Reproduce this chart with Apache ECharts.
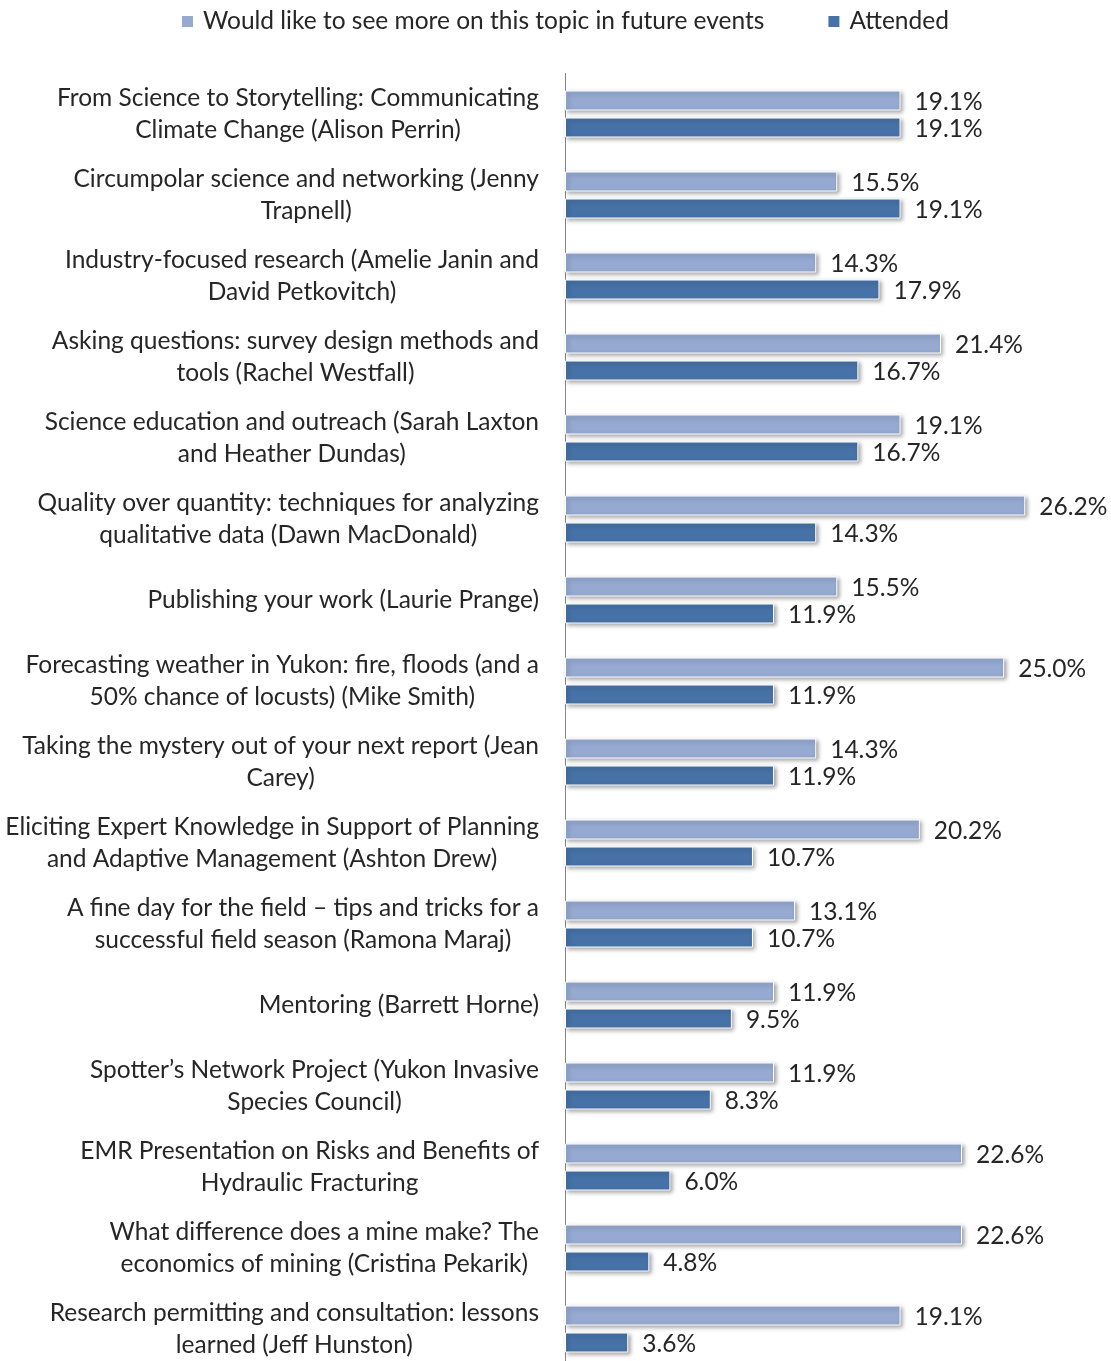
<!DOCTYPE html>
<html>
<head>
<meta charset="utf-8">
<script src="https://cdn.jsdelivr.net/npm/echarts@6/dist/echarts.min.js"></script>
<style>
  html, body { margin: 0; padding: 0; background: #fff; }
  #chart { width: 1111px; height: 1361px; }
</style>
</head>
<body>
<div id="chart"></div>
<script>
// Session titles (line breaks as they wrap on the axis)
const categories = [
  'From Science to Storytelling: Communicating\nClimate Change (Alison Perrin)',
  'Circumpolar science and networking (Jenny\nTrapnell)',
  'Industry-focused research (Amelie Janin and\nDavid Petkovitch)',
  'Asking questions: survey design methods and\ntools (Rachel Westfall)',
  'Science education and outreach (Sarah Laxton\nand Heather Dundas)',
  'Quality over quantity: techniques for analyzing\nqualitative data (Dawn MacDonald)',
  'Publishing your work (Laurie Prange)',
  'Forecasting weather in Yukon: fire, floods (and a\n50% chance of locusts) (Mike Smith)',
  'Taking the mystery out of your next report (Jean\nCarey)',
  'Eliciting Expert Knowledge in Support of Planning\nand Adaptive Management (Ashton Drew)',
  'A fine day for the field \u2013 tips and tricks for a\nsuccessful field season (Ramona Maraj)',
  'Mentoring (Barrett Horne)',
  'Spotter\u2019s Network Project (Yukon Invasive\nSpecies Council)',
  'EMR Presentation on Risks and Benefits of\nHydraulic Fracturing',
  'What difference does a mine make? The\neconomics of mining (Cristina Pekarik)',
  'Research permitting and consultation: lessons\nlearned (Jeff Hunston)'
];

// Percent of respondents
const wouldLikeMore = [19.1, 15.5, 14.3, 21.4, 19.1, 26.2, 15.5, 25.0, 14.3, 20.2, 13.1, 11.9, 11.9, 22.6, 22.6, 19.1];
const attended      = [19.1, 19.1, 17.9, 16.7, 16.7, 14.3, 11.9, 11.9, 11.9, 10.7, 10.7, 9.5, 8.3, 6.0, 4.8, 3.6];

const seriesNames = ['Would like to see more on this topic in future events', 'Attended'];

const FONT = 'Lato, "Open Sans", sans-serif';
const FS = 24.5;
const TEXT = '#262626';

const barStyle = (color) => ({
  color: color,
  borderColor: '#ffffff',
  borderWidth: 1,
  shadowColor: 'rgba(0,0,0,0.35)',
  shadowBlur: 4,
  shadowOffsetX: 2,
  shadowOffsetY: 2
});

const valueLabel = {
  show: true,
  position: 'right',
  distance: 14,
  offset: [0, 2],
  color: TEXT,
  fontFamily: FONT,
  fontSize: FS,
  formatter: (p) => p.value.toFixed(1) + '%'
};

const chart = echarts.init(document.getElementById('chart'), null, { renderer: 'canvas' });

chart.setOption({
  backgroundColor: '#ffffff',
  animation: false,
  textStyle: { fontFamily: FONT },
  legend: {
    top: 4,
    left: 175,
    itemWidth: 13,
    itemHeight: 13,
    itemGap: 62,
    icon: 'rect',
    textStyle: { color: TEXT, fontSize: FS, fontFamily: FONT, padding: [0, 0, 0, 4] },
    data: seriesNames
  },
  grid: {
    left: 565,
    top: 73.5,
    width: 527,
    height: 1296,
    outerBoundsMode: 'none',
    containLabel: false
  },
  xAxis: {
    type: 'value',
    min: 0,
    max: 30,
    show: false
  },
  yAxis: {
    type: 'category',
    inverse: true,
    data: categories,
    axisLine: { show: true, lineStyle: { color: '#868686', width: 1 } },
    axisTick: { show: false },
    splitLine: { show: false },
    axisLabel: {
      margin: 26,
      align: 'right',
      interval: 0,
      color: TEXT,
      fontFamily: FONT,
      fontSize: FS,
      lineHeight: 32,
      formatter: (v) => v.split('\n').map((l) => '{c|' + l + '}').join('\n'),
      rich: {
        c: { align: 'center', color: TEXT, fontFamily: FONT, fontSize: FS, lineHeight: 32 }
      }
    }
  },
  series: [
    {
      name: seriesNames[0],
      type: 'bar',
      data: wouldLikeMore,
      barWidth: 20,
      barGap: '35%',
      itemStyle: barStyle('#95a9d1'),
      label: valueLabel
    },
    {
      name: seriesNames[1],
      type: 'bar',
      data: attended,
      barWidth: 20,
      barGap: '35%',
      itemStyle: barStyle('#4672a7'),
      label: valueLabel
    }
  ]
});
</script>
</body>
</html>
